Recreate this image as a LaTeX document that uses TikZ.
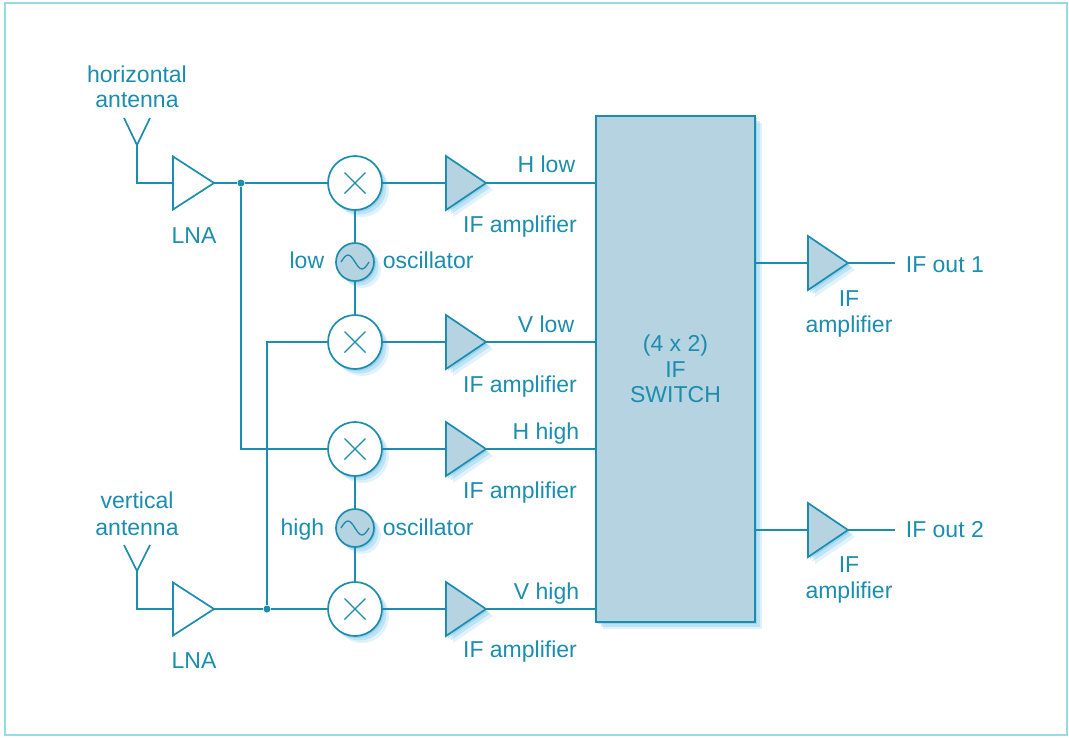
\documentclass[tikz,border=0pt]{standalone}
\usepackage{fontspec}
\setmainfont{Liberation Sans}
\usetikzlibrary{shapes.geometric,shadows}
\definecolor{ink}{HTML}{1B8DAE}
\definecolor{boxfill}{HTML}{B5D3E0}
\definecolor{framec}{HTML}{98DCE2}
\definecolor{glow}{HTML}{6FBFE6}
\begin{document}
\begin{tikzpicture}[x=1pt, y=-1pt, color=ink, line width=1.7pt,
  font=\fontsize{23}{26}\selectfont,
  glowshadow/.style={
    drop shadow={fill=glow, opacity=0.2, shadow xshift=7pt, shadow yshift=-7pt},
    drop shadow={fill=glow, opacity=0.3, shadow xshift=4.5pt, shadow yshift=-4.5pt},
    drop shadow={fill=glow, opacity=0.4, shadow xshift=2pt, shadow yshift=-2pt}},
  mixer/.style={circle, draw, fill=white, minimum size=54pt, inner sep=0, outer sep=0, glowshadow,
    path picture={\draw[line width=1.3pt]
      ([shift={(-10.5pt,-10.5pt)}]path picture bounding box.center) -- ([shift={(10.5pt,10.5pt)}]path picture bounding box.center)
      ([shift={(-10.5pt,10.5pt)}]path picture bounding box.center) -- ([shift={(10.5pt,-10.5pt)}]path picture bounding box.center);}},
  osc/.style={circle, draw, fill=boxfill, minimum size=38pt, inner sep=0, outer sep=0, glowshadow,
    path picture={\draw[line width=1.3pt] ([xshift=-14pt]path picture bounding box.center)
      sin ++(7pt,7pt) cos ++(7pt,-7pt) sin ++(7pt,-7pt) cos ++(7pt,7pt);}},
  amp/.style={isosceles triangle, isosceles triangle stretches, shape border rotate=0, draw, fill=boxfill,
    minimum width=54pt, minimum height=40pt, inner sep=0, outer sep=0, anchor=west, glowshadow},
  lna/.style={isosceles triangle, isosceles triangle stretches, shape border rotate=0, draw, fill=white,
    minimum width=53pt, minimum height=41pt, inner sep=0, outer sep=0, anchor=west},
  dot/.style={circle, fill=ink, inner sep=0, minimum size=7pt},
  switchbox/.style={rectangle, draw, fill=boxfill, minimum width=159pt, minimum height=506pt, outer sep=0,
    anchor=north west, align=center, glowshadow, font=\fontsize{23}{25.5}\selectfont},
  lbl/.style={inner sep=0, anchor=base}]
\useasboundingbox (0,0) rectangle (1069,737);
\draw[framec, line width=2pt] (5,3) rectangle (1067,735);

% front end
\coordinate (ant1) at (137,145);
\coordinate (ant2) at (137,571);
\node[lna] (lna1) at (173,183) {};
\node[lna] (lna2) at (173,609) {};
\node[dot] (d1) at (241,183) {};
\node[dot] (d2) at (267,609) {};

% mixers and oscillators
\node[mixer] (mx1) at (355,183) {};
\node[mixer] (mx2) at (355,342) {};
\node[mixer] (mx3) at (355,449) {};
\node[mixer] (mx4) at (355,609) {};
\node[osc] (osc1) at (355,262) {};
\node[osc] (osc2) at (355,528) {};

% IF stages
\node[amp] (amp1) at (446,183) {};
\node[amp] (amp2) at (446,342) {};
\node[amp] (amp3) at (446,449) {};
\node[amp] (amp4) at (446,609) {};
\node[switchbox] (sw) at (596,116) {(4 x 2)\\IF\\SWITCH};
\node[amp] (amp5) at (808,263) {};
\node[amp] (amp6) at (808,530) {};
\coordinate (o1) at (895,263);
\coordinate (o2) at (895,530);

% antennas
\draw (ant1) -- ++(-13,-27) (ant1) -- ++(13,-27);
\draw (ant2) -- ++(-13,-26) (ant2) -- ++(13,-26);
\draw (ant1) |- (lna1.west);
\draw (ant2) |- (lna2.west);

% wiring
\draw (lna1.east) -- (d1) -- (mx1.west);
\draw (d1) |- (mx3.west);
\draw (lna2.east) -- (d2) -- (mx4.west);
\draw (d2) |- (mx2.west);
\draw (mx1) -- (osc1) -- (mx2);
\draw (mx3) -- (osc2) -- (mx4);
\draw (mx1.east) -- (amp1.west);
\draw (mx2.east) -- (amp2.west);
\draw (mx3.east) -- (amp3.west);
\draw (mx4.east) -- (amp4.west);
\draw (amp1.east) -- (amp1.east -| sw.west);
\draw (amp2.east) -- (amp2.east -| sw.west);
\draw (amp3.east) -- (amp3.east -| sw.west);
\draw (amp4.east) -- (amp4.east -| sw.west);
\draw (sw.east |- amp5.west) -- (amp5.west);
\draw (sw.east |- amp6.west) -- (amp6.west);
\draw (amp5.east) -- (o1);
\draw (amp6.east) -- (o2);

% labels
\node[lbl] (th1) at (137,82) {horizontal};
\node[lbl] (th2) at (137,107) {antenna};
\node[lbl] (tv1) at (137,508) {vertical};
\node[lbl] (tv2) at (137,535) {antenna};
\node[lbl] (tl1) at (194,243) {LNA};
\node[lbl] (tl2) at (194,668) {LNA};
\node[lbl, anchor=base east] (tlow) at (325,268) {low};
\node[lbl, anchor=base west] (tosc1) at (382,268) {oscillator};
\node[lbl, anchor=base east] (thigh) at (325,535) {high};
\node[lbl, anchor=base west] (tosc2) at (382,535) {oscillator};
\node[lbl, anchor=base east] (thl) at (576,172) {H low};
\node[lbl, anchor=base east] (tvl) at (575,332) {V low};
\node[lbl, anchor=base east] (thh) at (580,439) {H high};
\node[lbl, anchor=base east] (tvh) at (580,599) {V high};
\node[lbl] (ta1) at (520,232) {IF amplifier};
\node[lbl] (ta2) at (520,392) {IF amplifier};
\node[lbl] (ta3) at (520,498) {IF amplifier};
\node[lbl] (ta4) at (520,657) {IF amplifier};
\node[lbl, anchor=base west] (to1) at (905,272) {IF out 1};
\node[lbl, anchor=base west] (to2) at (905,537) {IF out 2};
\node[lbl] (ta5) at (849,306) {IF};
\node[lbl] (ta5b) at (849,332) {amplifier};
\node[lbl] (ta6) at (849,572) {IF};
\node[lbl] (ta6b) at (849,598) {amplifier};
\end{tikzpicture}
\end{document}
